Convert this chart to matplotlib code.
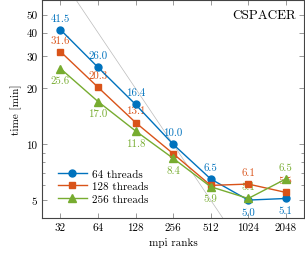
import matplotlib
matplotlib.use("Agg")
import matplotlib.pyplot as plt
from matplotlib.ticker import FixedLocator, NullFormatter

plt.rcParams['font.family'] = 'serif'
plt.rcParams['font.serif'] = ['cmr10', 'DejaVu Serif']
plt.rcParams['mathtext.fontset'] = 'cm'
plt.rcParams['axes.formatter.use_mathtext'] = True

ranks = [32, 64, 128, 256, 512, 1024, 2048]
t64 = [41.5, 26.0, 16.4, 10.0, 6.5, 5.0, 5.1]
t128 = [31.6, 20.3, 13.1, 8.9, 6.0, 6.1, 5.5]
t256 = [25.6, 17.0, 11.8, 8.4, 5.9, 5.1, 6.5]
# label placement per point: 1 above, -1 below, 0 none
pos64 = [1, 1, 1, 1, 1, -1, -1]
pos128 = [1, 1, 1, 0, 0, 1, 1]
pos256 = [-1, -1, -1, -1, -1, 1, 1]
ideal_const = 2560  # ideal scaling t = C / ranks

blue = '#0072BD'
orange = '#D95319'
green = '#77AC30'

fig = plt.figure(figsize=(3.05, 2.55), dpi=100)
ax = fig.add_axes([0.138, 0.141, 0.859, 0.855])

xs = [20, 4000]
ax.plot(xs, [ideal_const / x for x in xs], color='#bbbbbb', lw=0.5, zorder=1)

series = [(t64, pos64, blue, 'o', '64 threads'),
          (t128, pos128, orange, 's', '128 threads'),
          (t256, pos256, green, '^', '256 threads')]
for vals, pos, c, m, lab in series:
    ms = 5.5 if m == '^' else 5
    ax.plot(ranks, vals, color=c, marker=m, ms=ms, lw=1.0, label=lab, zorder=3)
    for x, y, p in zip(ranks, vals, pos):
        if p == 0:
            continue
        ax.annotate('%.1f' % y, (x, y), xytext=(0, 8.5 * p), textcoords='offset points',
                    ha='center', va='center', color=c, fontsize=7.8, zorder=2)

ax.set_xscale('log', base=2)
ax.set_yscale('log')
ax.set_xlim(22.8, 2870)
ax.set_ylim(4.0, 60)
ax.xaxis.set_major_locator(FixedLocator(ranks))
ax.set_xticklabels([str(r) for r in ranks])
ax.xaxis.set_minor_locator(FixedLocator([]))
ax.yaxis.set_major_locator(FixedLocator([5, 10, 20, 30, 40, 50]))
ax.set_yticklabels(['5', '10', '20', '30', '40', '50'])
ax.yaxis.set_minor_locator(FixedLocator([6, 7, 8, 9]))
ax.yaxis.set_minor_formatter(NullFormatter())
ax.tick_params(which='both', direction='in', top=True, right=True,
               labelsize=8, color='#888888', width=0.6)
ax.tick_params(which='major', length=3.5)
ax.tick_params(which='minor', length=2.5)
for s in ax.spines.values():
    s.set_linewidth(0.8)
    s.set_color('#444444')

ax.set_xlabel('mpi ranks', fontsize=8, labelpad=3)
ax.set_ylabel('time [min]', fontsize=8, labelpad=3)
ax.text(0.97, 0.93, 'CSPACER', transform=ax.transAxes, ha='right', va='center', fontsize=9.5)

ax.legend(loc='lower left', bbox_to_anchor=(0.03, 0.03), frameon=False, fontsize=8,
          handlelength=2.6, labelspacing=0.25, borderaxespad=0.3, handletextpad=0.5,
          markerfirst=True)

fig.savefig('out.png', dpi=100)
